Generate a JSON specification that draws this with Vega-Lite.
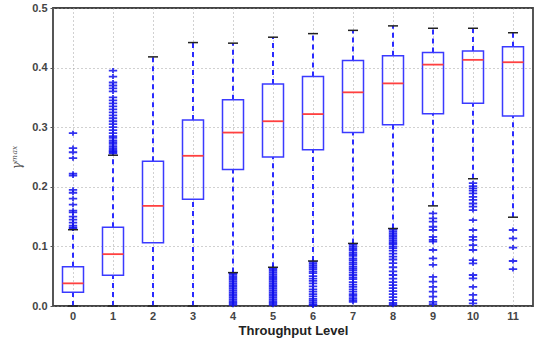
{
  "$schema": "https://vega.github.io/schema/vega-lite/v6.json",
  "autosize": "none",
  "width": 480,
  "height": 298,
  "padding": {"left": 53, "top": 8, "right": 7, "bottom": 34},
  "background": "white",
  "config": {
    "view": {"stroke": "#444444", "strokeWidth": 1.8},
    "axis": {
      "labelFont": "Liberation Sans",
      "titleFont": "Liberation Sans",
      "labelColor": "#444444",
      "titleColor": "#222222",
      "labelFontWeight": "bold",
      "labelFontSize": 11,
      "gridColor": "#999999",
      "gridDash": [1, 3],
      "gridWidth": 1,
      "gridOpacity": 0.9,
      "domain": false,
      "tickColor": "#555555",
      "tickSize": 3
    }
  },
  "datasets": {
    "boxes": [
      {"cat": "0", "lo": 0.0, "q1": 0.023, "med": 0.038, "q3": 0.066, "hi": 0.128},
      {"cat": "1", "lo": 0.0, "q1": 0.0515, "med": 0.087, "q3": 0.132, "hi": 0.253},
      {"cat": "2", "lo": 0.0, "q1": 0.106, "med": 0.168, "q3": 0.243, "hi": 0.418},
      {"cat": "3", "lo": 0.0, "q1": 0.179, "med": 0.252, "q3": 0.312, "hi": 0.442},
      {"cat": "4", "lo": 0.056, "q1": 0.229, "med": 0.291, "q3": 0.346, "hi": 0.441},
      {"cat": "5", "lo": 0.065, "q1": 0.25, "med": 0.31, "q3": 0.3725, "hi": 0.451},
      {"cat": "6", "lo": 0.0755, "q1": 0.262, "med": 0.322, "q3": 0.385, "hi": 0.457},
      {"cat": "7", "lo": 0.105, "q1": 0.291, "med": 0.3585, "q3": 0.412, "hi": 0.4625},
      {"cat": "8", "lo": 0.13, "q1": 0.304, "med": 0.3735, "q3": 0.42, "hi": 0.47},
      {"cat": "9", "lo": 0.168, "q1": 0.3225, "med": 0.405, "q3": 0.4255, "hi": 0.466},
      {"cat": "10", "lo": 0.2135, "q1": 0.34, "med": 0.413, "q3": 0.428, "hi": 0.466},
      {"cat": "11", "lo": 0.149, "q1": 0.319, "med": 0.409, "q3": 0.435, "hi": 0.4585}
    ],
    "outliers": [
      {"cat": "0", "v": 0.29}, {"cat": "0", "v": 0.265}, {"cat": "0", "v": 0.258}, {"cat": "0", "v": 0.248},
      {"cat": "0", "v": 0.222}, {"cat": "0", "v": 0.219}, {"cat": "0", "v": 0.195}, {"cat": "0", "v": 0.19},
      {"cat": "0", "v": 0.18}, {"cat": "0", "v": 0.17}, {"cat": "0", "v": 0.16}, {"cat": "0", "v": 0.157},
      {"cat": "0", "v": 0.15}, {"cat": "0", "v": 0.145}, {"cat": "0", "v": 0.14}, {"cat": "0", "v": 0.135},
      {"cat": "0", "v": 0.132}, {"cat": "0", "v": 0.13},
      {"cat": "1", "v": 0.395}, {"cat": "1", "v": 0.385}, {"cat": "1", "v": 0.375}, {"cat": "1", "v": 0.37},
      {"cat": "1", "v": 0.365}, {"cat": "1", "v": 0.36}, {"cat": "1", "v": 0.35}, {"cat": "1", "v": 0.345},
      {"cat": "1", "v": 0.34}, {"cat": "1", "v": 0.335}, {"cat": "1", "v": 0.33}, {"cat": "1", "v": 0.325},
      {"cat": "1", "v": 0.32}, {"cat": "1", "v": 0.315}, {"cat": "1", "v": 0.31}, {"cat": "1", "v": 0.305},
      {"cat": "1", "v": 0.3}, {"cat": "1", "v": 0.295}, {"cat": "1", "v": 0.29}, {"cat": "1", "v": 0.285},
      {"cat": "1", "v": 0.282}, {"cat": "1", "v": 0.278}, {"cat": "1", "v": 0.275}, {"cat": "1", "v": 0.272},
      {"cat": "1", "v": 0.268}, {"cat": "1", "v": 0.265}, {"cat": "1", "v": 0.262}, {"cat": "1", "v": 0.26},
      {"cat": "1", "v": 0.258}, {"cat": "1", "v": 0.256},
      {"cat": "4", "v": 0.002}, {"cat": "4", "v": 0.005}, {"cat": "4", "v": 0.008}, {"cat": "4", "v": 0.011},
      {"cat": "4", "v": 0.014}, {"cat": "4", "v": 0.017}, {"cat": "4", "v": 0.02}, {"cat": "4", "v": 0.023},
      {"cat": "4", "v": 0.026}, {"cat": "4", "v": 0.029}, {"cat": "4", "v": 0.032}, {"cat": "4", "v": 0.035},
      {"cat": "4", "v": 0.038}, {"cat": "4", "v": 0.041}, {"cat": "4", "v": 0.044}, {"cat": "4", "v": 0.047},
      {"cat": "4", "v": 0.05}, {"cat": "4", "v": 0.053}, {"cat": "4", "v": 0.055},
      {"cat": "5", "v": 0.002}, {"cat": "5", "v": 0.005}, {"cat": "5", "v": 0.008}, {"cat": "5", "v": 0.011},
      {"cat": "5", "v": 0.014}, {"cat": "5", "v": 0.017}, {"cat": "5", "v": 0.02}, {"cat": "5", "v": 0.023},
      {"cat": "5", "v": 0.026}, {"cat": "5", "v": 0.029}, {"cat": "5", "v": 0.032}, {"cat": "5", "v": 0.035},
      {"cat": "5", "v": 0.038}, {"cat": "5", "v": 0.041}, {"cat": "5", "v": 0.044}, {"cat": "5", "v": 0.047},
      {"cat": "5", "v": 0.05}, {"cat": "5", "v": 0.053}, {"cat": "5", "v": 0.056}, {"cat": "5", "v": 0.059},
      {"cat": "5", "v": 0.062}, {"cat": "5", "v": 0.064},
      {"cat": "6", "v": 0.074}, {"cat": "6", "v": 0.071}, {"cat": "6", "v": 0.068}, {"cat": "6", "v": 0.065},
      {"cat": "6", "v": 0.062}, {"cat": "6", "v": 0.058}, {"cat": "6", "v": 0.055}, {"cat": "6", "v": 0.05},
      {"cat": "6", "v": 0.046}, {"cat": "6", "v": 0.042}, {"cat": "6", "v": 0.038}, {"cat": "6", "v": 0.033},
      {"cat": "6", "v": 0.028}, {"cat": "6", "v": 0.024}, {"cat": "6", "v": 0.02}, {"cat": "6", "v": 0.016},
      {"cat": "6", "v": 0.012}, {"cat": "6", "v": 0.009}, {"cat": "6", "v": 0.006}, {"cat": "6", "v": 0.003},
      {"cat": "6", "v": 0.001},
      {"cat": "7", "v": 0.103}, {"cat": "7", "v": 0.1}, {"cat": "7", "v": 0.097}, {"cat": "7", "v": 0.094},
      {"cat": "7", "v": 0.09}, {"cat": "7", "v": 0.087}, {"cat": "7", "v": 0.084}, {"cat": "7", "v": 0.08},
      {"cat": "7", "v": 0.077}, {"cat": "7", "v": 0.073}, {"cat": "7", "v": 0.07}, {"cat": "7", "v": 0.066},
      {"cat": "7", "v": 0.063}, {"cat": "7", "v": 0.06}, {"cat": "7", "v": 0.056}, {"cat": "7", "v": 0.052},
      {"cat": "7", "v": 0.048}, {"cat": "7", "v": 0.045}, {"cat": "7", "v": 0.04}, {"cat": "7", "v": 0.036},
      {"cat": "7", "v": 0.032}, {"cat": "7", "v": 0.028}, {"cat": "7", "v": 0.024}, {"cat": "7", "v": 0.02},
      {"cat": "7", "v": 0.017}, {"cat": "7", "v": 0.013}, {"cat": "7", "v": 0.01}, {"cat": "7", "v": 0.007},
      {"cat": "8", "v": 0.128}, {"cat": "8", "v": 0.125}, {"cat": "8", "v": 0.122}, {"cat": "8", "v": 0.119},
      {"cat": "8", "v": 0.116}, {"cat": "8", "v": 0.113}, {"cat": "8", "v": 0.11}, {"cat": "8", "v": 0.107},
      {"cat": "8", "v": 0.104}, {"cat": "8", "v": 0.1}, {"cat": "8", "v": 0.097}, {"cat": "8", "v": 0.093},
      {"cat": "8", "v": 0.088}, {"cat": "8", "v": 0.083}, {"cat": "8", "v": 0.078}, {"cat": "8", "v": 0.072},
      {"cat": "8", "v": 0.065}, {"cat": "8", "v": 0.058}, {"cat": "8", "v": 0.052}, {"cat": "8", "v": 0.046},
      {"cat": "8", "v": 0.04}, {"cat": "8", "v": 0.035}, {"cat": "8", "v": 0.03}, {"cat": "8", "v": 0.025},
      {"cat": "8", "v": 0.02}, {"cat": "8", "v": 0.015}, {"cat": "8", "v": 0.01}, {"cat": "8", "v": 0.005},
      {"cat": "8", "v": 0.002},
      {"cat": "9", "v": 0.1555}, {"cat": "9", "v": 0.147}, {"cat": "9", "v": 0.1415}, {"cat": "9", "v": 0.133},
      {"cat": "9", "v": 0.1275}, {"cat": "9", "v": 0.116}, {"cat": "9", "v": 0.111}, {"cat": "9", "v": 0.108},
      {"cat": "9", "v": 0.094}, {"cat": "9", "v": 0.08}, {"cat": "9", "v": 0.069}, {"cat": "9", "v": 0.049},
      {"cat": "9", "v": 0.041}, {"cat": "9", "v": 0.032}, {"cat": "9", "v": 0.024}, {"cat": "9", "v": 0.0156},
      {"cat": "9", "v": 0.007}, {"cat": "9", "v": 0.003},
      {"cat": "10", "v": 0.206}, {"cat": "10", "v": 0.201}, {"cat": "10", "v": 0.1975}, {"cat": "10", "v": 0.1935},
      {"cat": "10", "v": 0.189}, {"cat": "10", "v": 0.183}, {"cat": "10", "v": 0.178}, {"cat": "10", "v": 0.172},
      {"cat": "10", "v": 0.1666}, {"cat": "10", "v": 0.161}, {"cat": "10", "v": 0.144}, {"cat": "10", "v": 0.1275},
      {"cat": "10", "v": 0.116}, {"cat": "10", "v": 0.111}, {"cat": "10", "v": 0.102}, {"cat": "10", "v": 0.094},
      {"cat": "10", "v": 0.077}, {"cat": "10", "v": 0.0716}, {"cat": "10", "v": 0.052}, {"cat": "10", "v": 0.0464},
      {"cat": "10", "v": 0.032}, {"cat": "10", "v": 0.0185}, {"cat": "10", "v": 0.01}, {"cat": "10", "v": 0.0045},
      {"cat": "11", "v": 0.1275}, {"cat": "11", "v": 0.1135}, {"cat": "11", "v": 0.098}, {"cat": "11", "v": 0.0755},
      {"cat": "11", "v": 0.062}
    ]
  },
  "encoding": {
    "x": {
      "field": "cat",
      "type": "ordinal",
      "sort": null,
      "scale": {"domain": ["0","1","2","3","4","5","6","7","8","9","10","11"], "paddingInner": 0, "paddingOuter": 0},
      "axis": {"title": "Throughput Level", "titleFontSize": 13, "titleFontWeight": "bold", "labelAngle": 0, "bandPosition": 0.5, "grid": true, "ticks": false, "labelPadding": 4, "titlePadding": 3}
    }
  },
  "layer": [
    {
      "data": {"name": "boxes"},
      "mark": {"type": "rule", "color": "#2b2bff", "strokeWidth": 2, "strokeDash": [5, 4]},
      "encoding": {
        "y": {"field": "lo", "type": "quantitative", "scale": {"domain": [0, 0.5], "nice": false},
          "axis": {"title": "γᵐᵃˣ", "titleFontSize": 12, "titleFontWeight": "normal", "titleColor": "#555555", "titleFont": "DejaVu Serif", "titleFontStyle": "italic", "format": ".1f", "values": [0, 0.1, 0.2, 0.3, 0.4, 0.5], "grid": true, "labelPadding": 3, "titlePadding": 8}},
        "y2": {"field": "q1"}
      }
    },
    {
      "data": {"name": "boxes"},
      "mark": {"type": "rule", "color": "#2b2bff", "strokeWidth": 2, "strokeDash": [5, 4]},
      "encoding": {
        "y": {"field": "q3", "type": "quantitative"},
        "y2": {"field": "hi"}
      }
    },
    {
      "data": {"name": "outliers"},
      "mark": {"type": "point", "shape": "M-1,0H1M0,-0.6V0.6", "size": 70, "filled": false, "stroke": "#1010ee", "strokeWidth": 1.8, "opacity": 0.85},
      "encoding": {
        "y": {"field": "v", "type": "quantitative"}
      }
    },
    {
      "data": {"name": "boxes"},
      "mark": {"type": "bar", "size": 21, "fillOpacity": 0, "stroke": "#3a3aff", "strokeWidth": 1.5},
      "encoding": {
        "y": {"field": "q1", "type": "quantitative"},
        "y2": {"field": "q3"}
      }
    },
    {
      "data": {"name": "boxes"},
      "mark": {"type": "tick", "size": 21, "thickness": 1.8, "color": "#ff4040", "opacity": 1},
      "encoding": {
        "y": {"field": "med", "type": "quantitative"}
      }
    },
    {
      "data": {"name": "boxes"},
      "mark": {"type": "tick", "size": 10, "thickness": 1.5, "color": "#222222", "opacity": 1},
      "encoding": {
        "y": {"field": "hi", "type": "quantitative"}
      }
    },
    {
      "data": {"name": "boxes"},
      "mark": {"type": "tick", "size": 10, "thickness": 1.5, "color": "#222222", "opacity": 1},
      "encoding": {
        "y": {"field": "lo", "type": "quantitative"}
      }
    }
  ]
}
